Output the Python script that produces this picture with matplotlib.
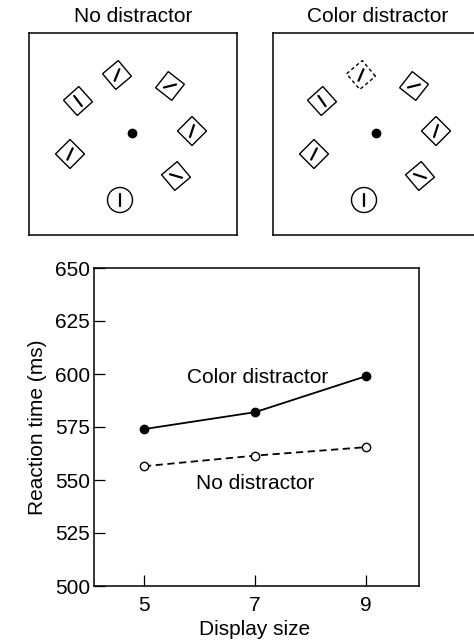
import matplotlib
matplotlib.use("Agg")
import matplotlib.pyplot as plt
import numpy as np
from matplotlib.patches import Polygon, Circle

plt.rcParams['font.family'] = ['Liberation Sans', 'DejaVu Sans']
plt.rcParams['font.size'] = 15
plt.rcParams['xtick.direction'] = 'in'
plt.rcParams['ytick.direction'] = 'in'

# ---- data ----
display_size = [5, 7, 9]
rt_color = [574, 582, 599]
rt_none = [556.5, 561.5, 565.5]
y_ticks = [500, 525, 550, 575, 600, 625, 650]

# stimulus layout (offsets from the fixation dot, y up), diamond tilt, bar angle
item_dx = [-15, 38, -54, 60, -62, 44, -12]
item_dy = [58, 47, 32, 2, -21, -43, -67]
item_tilt = [-5, 7, -3, 0, 0, -5, 0]
bar_angle_left = [68, 14, 127, 72, 65, 164, 90]
bar_angle_right = [67, 14, 125, 72, 63, 162, 90]
shape = ["d", "d", "d", "d", "d", "d", "o"]

W, H = 474, 642
fig = plt.figure(figsize=(W / 100, H / 100), dpi=100)


def px_axes(x0, y0, x1, y1):
    return fig.add_axes([x0 / W, 1 - y1 / H, (x1 - x0) / W, (y1 - y0) / H])


def draw_panel(ax, title, bar_angles, dashed_idx=None):
    ax.set_xlim(-103, 105)
    ax.set_ylim(-102, 100)
    ax.set_xticks([])
    ax.set_yticks([])
    for s in ax.spines.values():
        s.set_linewidth(1.1)
    ax.plot(0, 0, "o", color="black", ms=6)
    half = 14.5
    for i in range(len(item_dx)):
        cx, cy = item_dx[i], item_dy[i]
        ls = (0, (2.5, 2)) if i == dashed_idx else "-"
        if shape[i] == "d":
            t = np.deg2rad(item_tilt[i])
            ang = t + np.arange(4) * np.pi / 2
            pts = np.c_[cx + half * np.cos(ang), cy + half * np.sin(ang)]
            ax.add_patch(Polygon(pts, closed=True, fill=False, ec="black",
                                 lw=1.0, ls=ls))
        else:
            ax.add_patch(Circle((cx, cy), 12.5, fill=False, ec="black", lw=1.0))
        a = np.deg2rad(bar_angles[i])
        L = 6.3
        ax.plot([cx - L * np.cos(a), cx + L * np.cos(a)],
                [cy - L * np.sin(a), cy + L * np.sin(a)],
                color="black", lw=1.6, solid_capstyle="round")
    ax.set_title(title, fontsize=15, pad=8)


ax1 = px_axes(29, 33, 237, 235)
draw_panel(ax1, "No distractor", bar_angle_left)
ax2 = px_axes(273, 33, 481, 235)
draw_panel(ax2, "Color distractor", bar_angle_right, dashed_idx=0)
ax2.title.set_position((0.5 * (474 - 273) / 208 + 0.02, 1.0))

# ---- reaction time chart ----
ax = px_axes(94, 268, 419, 586)
ax.plot(display_size, rt_color, "-o", color="black", lw=1.3, ms=6,
        mfc="black", mec="black")
ax.plot(display_size, rt_none, "--o", color="black", lw=1.3, ms=6,
        mfc="white", mec="black", mew=1.0, dashes=(4, 2.5))
ax.set_xlim(4.1, 9.95)
ax.set_ylim(500, 650)
ax.set_xticks(display_size)
ax.set_yticks(y_ticks)
ax.tick_params(direction="in", length=8, width=0.9, labelsize=15)
ax.tick_params(axis="y", pad=3)
ax.tick_params(axis="x", pad=7)
for s in ax.spines.values():
    s.set_linewidth(1.1)
ax.set_xlabel("Display size", fontsize=15)
ax.set_ylabel("Reaction time (ms)", fontsize=15)
ax.xaxis.set_label_coords(0.495, -0.108)
ax.yaxis.set_label_coords(-0.145, 0.5)
ax.text(7.05, 598.5, "Color distractor", ha="center", va="center", fontsize=15)
ax.text(7.0, 548.5, "No distractor", ha="center", va="center", fontsize=15)

fig.savefig("out.png", dpi=100)
